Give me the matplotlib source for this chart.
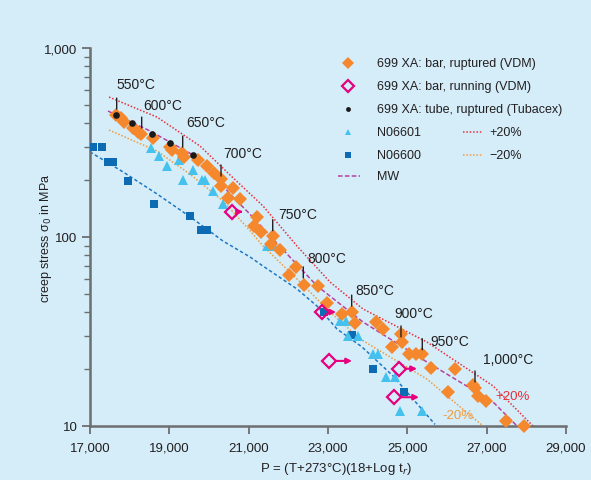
import matplotlib

matplotlib.use("Agg")
import matplotlib.pyplot as plt
from matplotlib.lines import Line2D
from matplotlib.ticker import FixedLocator, LogLocator, NullFormatter

plt.rcParams["font.family"] = ["Liberation Sans", "DejaVu Sans"]

# 699 XA bar, ruptured (VDM)
bar_p = [17655, 17781, 17857, 18084, 18210, 18286, 18588, 19017, 19067, 19319,
         19370, 19723, 19950, 20126, 20303, 20303, 20605, 20479, 20782, 21210,
         21134, 21311, 21613, 21563, 21790, 22193, 22017, 22395, 22748, 22975,
         23353, 23605, 23681, 24210, 24387, 24613, 24840, 24866, 25042, 25218,
         25370, 25597, 26025, 26202, 26655, 26706, 26781, 26983, 27487, 27941]
bar_s = [442, 426, 406, 377, 359, 351, 334, 299, 289, 278,
         265, 256, 238, 218, 203, 186, 182, 161, 159, 128,
         114, 106, 101, 92, 85, 69, 63, 56, 55, 45,
         39, 40, 35, 35.5, 32.6, 26.2, 30.7, 27.8, 24.0, 24.0,
         24.0, 20.3, 15.1, 20.0, 16.5, 15.9, 14.4, 13.6, 10.6, 10.0]

# 699 XA bar, still running (VDM) + where the arrow ends
run_p = [20580, 22849, 23026, 24790, 24664]
run_s = [136, 40.1, 22.1, 20.1, 14.2]
run_to = [20857, 23202, 23605, 25244, 25294]

# 699 XA tube, ruptured (Tubacex)
tube_p = [17655, 18059, 18563, 19017, 19597]
tube_s = [442, 401, 351, 316, 272]

# N06601
n601_p = [18538, 18740, 18941, 19244, 19345, 19597, 19824, 19899, 20101, 20353,
          21462, 21639, 23303, 23454, 23504, 23756, 24134, 24260, 24462, 24689,
          24815, 25370]
n601_s = [296, 268, 238, 256, 200, 226, 200, 200, 175, 149,
          90, 90, 35.9, 35.9, 29.9, 29.9, 24.0, 24.0, 18.2, 18.2,
          12.0, 12.0]

# N06600
n600_p = [17076, 17303, 17454, 17580, 17958, 18613, 19521, 19798, 19950,
          22899, 23605, 24134, 24916]
n600_s = [299, 299, 249, 249, 198, 149, 129, 109, 109,
          40.1, 30.3, 20.0, 15.1]

# curves
mw_p = [17454, 18513, 19773, 20529, 21034, 21613, 22723, 23882, 25496, 27160, 27765]
mw_s = [464, 364, 259, 169, 132, 97.6, 55.1, 35.5, 21.8, 13.4, 10.0]
plus_p = [17479, 18689, 19773, 20529, 21361, 22218, 23050, 23882, 25496, 27160, 28168]
plus_s = [550, 431, 303, 213, 146, 89.6, 57.8, 41.6, 27.8, 16.3, 10.0]
minus_p = [17479, 18689, 19521, 20353, 21034, 21361, 22218, 23050, 23807, 25496, 26882]
minus_s = [368, 285, 215, 155, 108, 89.6, 60.0, 40.1, 28.9, 17.7, 10.1]
n600_fit_p = [17000, 17832, 18689, 19521, 20353, 21034, 21361, 22218, 22723, 23227,
              23857, 24639, 25697]
n600_fit_s = [282, 221, 169, 128, 95.2, 78.4, 70.2, 53.1, 43.1, 32.6,
              26.2, 18.4, 10.2]

# test temperature markers
temp_labels = ["550°C", "600°C", "650°C", "700°C", "750°C", "800°C", "850°C",
               "900°C", "950°C", "1,000°C"]
temp_p = [17673, 18303, 19337, 20303, 21606, 22377, 23597, 24840, 25377, 26706]
temp_s = [475, 377, 299, 210, 108, 60.7, 43.1, 29.6, 25.3, 17.1]
label_dx = [0, 1.5, 3.3, 2, 5.6, 4, 3.3, -6.7, 7.7, 8.3]
label_dy = [25, 23, 25, 23, 17, 20, 16, 24, 9, 23]

BG = "#d4edf9"
ORANGE = "#f5872c"
PINK = "#e6007e"
CYAN = "#45c1ee"
BLUE = "#0d6bb3"
MAGENTA = "#b8419f"
RED = "#e8303a"
LORANGE = "#f39a3c"
TXT = "#231f20"
AXC = "#6d6e70"

W, H = 591, 481
fig = plt.figure(figsize=(W / 100, H / 100), dpi=100, facecolor=BG)
ax = fig.add_axes([90 / W, 1 - 427 / H, 476 / W, 378 / H])
ax.set_facecolor(BG)

ax.plot(n600_fit_p, n600_fit_s, color="#1f78c4", lw=1.1, ls=(0, (2.2, 1.6)), zorder=2)
ax.plot(minus_p, minus_s, color=LORANGE, lw=1.1, ls=(0, (1, 1.2)), zorder=2)
ax.plot(plus_p, plus_s, color=RED, lw=1.1, ls=(0, (1, 1.2)), zorder=2)
ax.plot(mw_p, mw_s, color=MAGENTA, lw=1.1, ls=(0, (3, 1.5)), zorder=2)

ax.plot(n600_p, n600_s, "s", color=BLUE, ms=6.3, mew=0, zorder=3)
ax.plot(n601_p, n601_s, "^", color=CYAN, ms=7, mew=0, zorder=3)
ax.plot(bar_p, bar_s, "D", color=ORANGE, ms=7.4, mew=0, zorder=4, clip_on=False)
ax.plot(tube_p, tube_s, "o", color="#1a1a1a", ms=4.8, mew=0, zorder=5)
ax.plot(run_p, run_s, "D", mfc="none", mec=PINK, ms=6.8, mew=1.6, zorder=6)
for p0, s0, p1 in zip(run_p, run_s, run_to):
    ax.annotate("", xy=(p1, s0), xytext=(p0, s0),
                arrowprops=dict(arrowstyle="-|>", color=PINK, lw=1.5,
                                mutation_scale=8, shrinkA=5, shrinkB=0),
                zorder=6)

for lab, p, s, dx, dy in zip(temp_labels, temp_p, temp_s, label_dx, label_dy):
    ax.annotate("", xy=(p, s), xytext=(0, 11), textcoords="offset pixels",
                xycoords="data",
                arrowprops=dict(arrowstyle="-", color=TXT, lw=1.0,
                                shrinkA=0, shrinkB=0), zorder=7)
    ax.annotate(lab, xy=(p, s), xytext=(dx, dy), textcoords="offset pixels",
                ha="left", va="center", fontsize=10, color=TXT, zorder=7)

ax.text(27664, 14.4, "+20%", color=RED, fontsize=9.5, ha="center", va="center")
ax.text(26265, 11.4, "-20%", color=LORANGE, fontsize=9.5, ha="center", va="center")

ax.set_xlim(17000, 29000)
ax.set_yscale("log")
ax.set_ylim(10, 1000)
ax.xaxis.set_major_locator(FixedLocator(range(17000, 29001, 2000)))
ax.set_xticklabels([f"{v:,}" for v in range(17000, 29001, 2000)])
ax.yaxis.set_major_locator(FixedLocator([10, 100, 1000]))
ax.set_yticklabels(["10", "100", "1,000"])
ax.yaxis.set_minor_locator(LogLocator(base=10, subs=range(2, 10)))
ax.yaxis.set_minor_formatter(NullFormatter())
for side in ("top", "right"):
    ax.spines[side].set_visible(False)
for side in ("left", "bottom"):
    ax.spines[side].set_color(AXC)
    ax.spines[side].set_linewidth(1.8)
ax.tick_params(which="major", direction="out", length=6, width=1.3, color=AXC,
               labelsize=9.5, labelcolor=TXT)
ax.tick_params(axis="x", which="major", pad=5)
ax.tick_params(axis="y", which="major", pad=3)
ax.tick_params(which="minor", direction="out", length=4, width=1.0, color=AXC)

ax.set_ylabel("creep stress σ$_0$ in MPa", fontsize=9, color=TXT)
ax.yaxis.set_label_coords(-0.076, 0.5)
ax.set_xlabel("P = (T+273°C)(18+Log t$_r$)", fontsize=9.5, color=TXT)
ax.xaxis.label.set_verticalalignment("center")
ax.xaxis.set_label_coords(0.517, -0.112)


# legend, drawn by hand in figure pixels
def fx(x):
    return x / W


def fy(y):
    return 1 - y / H


rows = [64.3, 87.3, 110, 133.3, 155.7, 177.3]
legend_items = [
    ("D", dict(color=ORANGE, ms=6, mew=0), "699 XA: bar, ruptured (VDM)"),
    ("D", dict(mfc="none", mec=PINK, ms=6, mew=1.6), "699 XA: bar, running (VDM)"),
    ("o", dict(color="#1a1a1a", ms=3.5, mew=0), "699 XA: tube, ruptured (Tubacex)"),
    ("^", dict(color=CYAN, ms=5, mew=0), "N06601"),
    ("s", dict(color=BLUE, ms=5, mew=0), "N06600"),
]
for (mk, kw, text), y in zip(legend_items, rows):
    fig.add_artist(Line2D([fx(348)], [fy(y)], marker=mk, ls="none",
                          transform=fig.transFigure, **kw))
    fig.text(fx(377), fy(y), text, fontsize=9, color=TXT, va="center", ha="left")
fig.add_artist(Line2D([fx(338), fx(360)], [fy(rows[5])] * 2, color=MAGENTA, lw=1.1,
                      ls=(0, (3, 1.5)), transform=fig.transFigure))
fig.text(fx(377), fy(rows[5]), "MW", fontsize=9, color=TXT, va="center", ha="left")
for y, c, text in [(rows[3], RED, "+20%"), (rows[4], LORANGE, "\u221220%")]:
    fig.add_artist(Line2D([fx(463), fx(482)], [fy(y)] * 2, color=c, lw=1.1,
                          ls=(0, (1, 1.2)), transform=fig.transFigure))
    fig.text(fx(489), fy(y), text, fontsize=9, color=TXT, va="center", ha="left")

fig.savefig("out.png", dpi=100, facecolor=BG)
